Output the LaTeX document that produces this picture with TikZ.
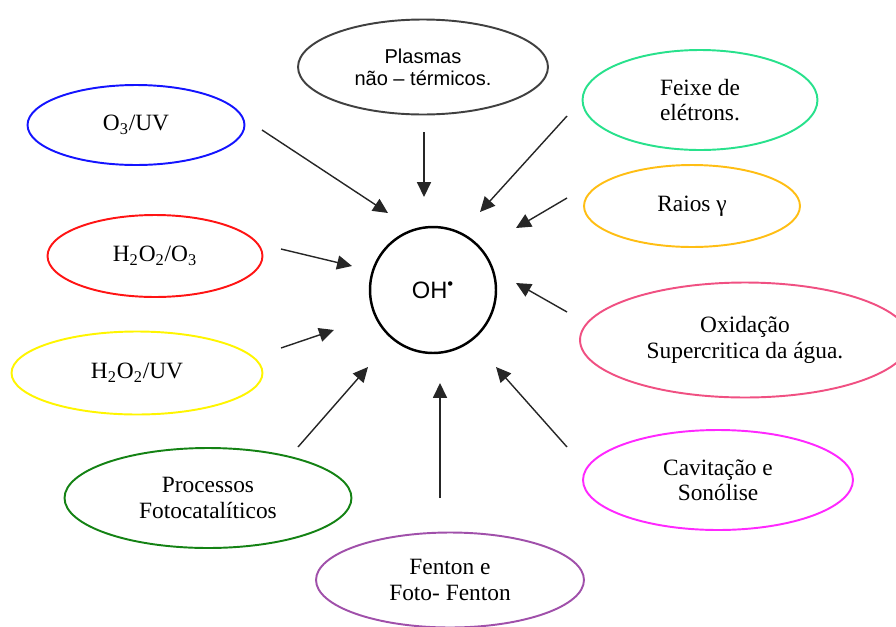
\documentclass[tikz,border=0pt]{standalone}
\usepackage{fontspec}
\setmainfont{Liberation Serif}
\newfontfamily\arialfont{Liberation Sans}
\usetikzlibrary{shapes.geometric,arrows.meta}
\definecolor{mintgreen}{RGB}{40,225,140}
\definecolor{raiosorange}{RGB}{255,190,20}
\definecolor{oxidpink}{RGB}{240,80,130}
\definecolor{fentonpurple}{RGB}{160,80,170}
\definecolor{fotogreen}{RGB}{20,130,20}
\definecolor{cavitmagenta}{RGB}{255,40,255}
\definecolor{uvyellow}{RGB}{255,245,0}
\definecolor{o3blue}{RGB}{20,20,255}
\definecolor{o3red}{RGB}{255,20,20}
\tikzset{
    process/.style={draw, ellipse, line width=1.1pt, inner sep=0pt, align=center,
        font=\fontsize{13.3}{14.5}\selectfont},
    feed/.style={-{Triangle[length=8.5pt,width=8pt]}, line width=0.8pt, black!85},
}

\begin{document}
\begin{tikzpicture}[x=0.02cm, y=-0.02cm]
    \useasboundingbox (0,0) rectangle (896,626);
    \clip (0,0) rectangle (896,626);

    \node[draw, circle, line width=1.4pt, minimum size=2.52cm, inner sep=0pt,
        font=\arialfont\fontsize{13.5}{15}\selectfont] (oh) at (433,290) {OH\textsuperscript{\textbullet}};

    \node[process, draw=black!75, minimum width=5cm, minimum height=1.9cm,
        font=\arialfont\fontsize{11.4}{12.5}\selectfont] (plasmas) at (423,67) {Plasmas\\não – térmicos.};
    \node[process, draw=o3blue, minimum width=4.34cm, minimum height=1.6cm] (o3uv) at (136,125) {O\textsubscript{3}/UV};
    \node[process, draw=o3red, minimum width=4.3cm, minimum height=1.64cm] (h2o2o3) at (155,256) {H\textsubscript{2}O\textsubscript{2}/O\textsubscript{3}};
    \node[process, draw=uvyellow, minimum width=5.02cm, minimum height=1.66cm] (h2o2uv) at (137,373) {H\textsubscript{2}O\textsubscript{2}/UV};
    \node[process, draw=fotogreen, minimum width=5.74cm, minimum height=2cm] (foto) at (208,498) {Processos\\Fotocatalíticos};
    \node[process, draw=fentonpurple, minimum width=5.36cm, minimum height=1.9cm] (fenton) at (450,580) {Fenton e\\Foto- Fenton};
    \node[process, draw=mintgreen, minimum width=4.7cm, minimum height=2cm] (feixe) at (700,100) {Feixe de\\elétrons.};
    \node[process, draw=raiosorange, minimum width=4.32cm, minimum height=1.64cm] (raios) at (692,206) {Raios γ};
    \node[process, draw=oxidpink, minimum width=6.6cm, minimum height=2.3cm] (oxid) at (745,340) {Oxidação\\Supercritica da água.};
    \node[process, draw=cavitmagenta, minimum width=5.4cm, minimum height=2cm] (cavit) at (718,480) {Cavitação e\\Sonólise};

    \coordinate (o3uv-a) at (262,130);
    \coordinate (o3uv-b) at (388,213);
    \coordinate (plasmas-a) at (424,132);
    \coordinate (plasmas-b) at (424,197);
    \coordinate (feixe-a) at (567,116);
    \coordinate (feixe-b) at (480,212);
    \coordinate (raios-a) at (567,198);
    \coordinate (raios-b) at (516,228);
    \coordinate (h2o2o3-a) at (281,249);
    \coordinate (h2o2o3-b) at (352,266);
    \coordinate (h2o2uv-a) at (281,348);
    \coordinate (h2o2uv-b) at (334,330);
    \coordinate (oxid-a) at (567,312);
    \coordinate (oxid-b) at (516,283);
    \coordinate (cavit-a) at (567,447);
    \coordinate (cavit-b) at (496,367);
    \coordinate (fenton-a) at (440,498);
    \coordinate (fenton-b) at (440,383);
    \coordinate (foto-a) at (298,447);
    \coordinate (foto-b) at (368,367);

    \draw[feed] (o3uv-a) -- (o3uv-b);
    \draw[feed] (plasmas-a) -- (plasmas-b);
    \draw[feed] (feixe-a) -- (feixe-b);
    \draw[feed] (raios-a) -- (raios-b);
    \draw[feed] (h2o2o3-a) -- (h2o2o3-b);
    \draw[feed] (h2o2uv-a) -- (h2o2uv-b);
    \draw[feed] (oxid-a) -- (oxid-b);
    \draw[feed] (cavit-a) -- (cavit-b);
    \draw[feed] (fenton-a) -- (fenton-b);
    \draw[feed] (foto-a) -- (foto-b);
\end{tikzpicture}
\end{document}
